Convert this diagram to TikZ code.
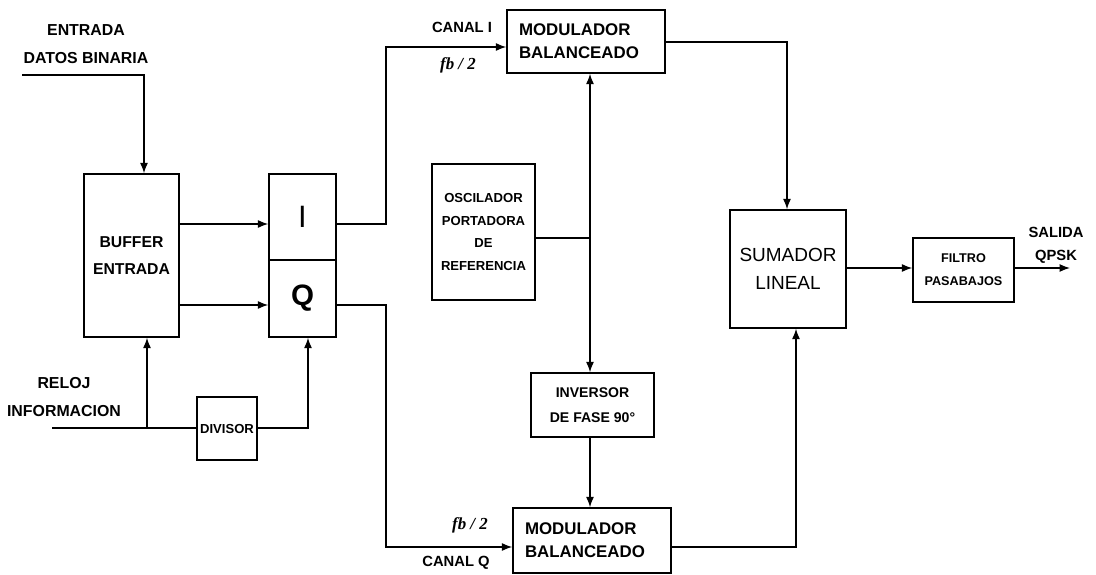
\documentclass[tikz,border=0pt]{standalone}
\usepackage{fontspec}
\setmainfont{Liberation Sans}
\newfontfamily\fbfont{Liberation Serif}
\usetikzlibrary{arrows.meta}

\begin{document}
\begin{tikzpicture}[x=0.25mm, y=-0.25mm, line width=1pt,
        blk/.style = {draw, line width=1pt, inner sep=0pt, align=center},
        lbl/.style = {inner sep=0pt, align=center, font=\bfseries\fontsize{11}{20}\selectfont},
        arr/.style = {-{Latex[length=2.6mm,width=2mm]}}]
    \useasboundingbox (0,0) rectangle (1096,575);

    % bloques
    \node[blk, minimum width=23.75mm, minimum height=40.75mm, font=\bfseries\fontsize{11.2}{19}\selectfont] (buf) at (131.5,255.5) {BUFFER\\ENTRADA};
    \node[blk, minimum width=16.75mm, minimum height=21.5mm, font=\fontsize{22}{22}\selectfont] (ibox) at (302.5,217) {I};
    \node[blk, minimum width=16.75mm, minimum height=19.25mm, font=\bfseries\fontsize{21}{21}\selectfont] (qbox) at (302.5,298.5) {Q};
    \node[blk, minimum width=39.5mm, minimum height=15.75mm, align=left, text width=33.5mm, inner xsep=3mm, font=\bfseries\fontsize{12}{16.3}\selectfont] (modI) at (586,41.5) {MODULADOR\\BALANCEADO};
    \node[blk, minimum width=25.75mm, minimum height=34mm, font=\bfseries\fontsize{9.3}{16.3}\selectfont] (osc) at (483.5,232) {OSCILADOR\\PORTADORA\\DE\\REFERENCIA};
    \node[blk, minimum width=30.75mm, minimum height=16mm, font=\bfseries\fontsize{10}{17.5}\selectfont] (inv) at (592.5,405) {INVERSOR\\DE FASE 90°};
    \node[blk, minimum width=39.5mm, minimum height=16.25mm, align=left, text width=33.5mm, inner xsep=3mm, font=\bfseries\fontsize{12}{16.3}\selectfont] (modQ) at (592,540.5) {MODULADOR\\BALANCEADO};
    \node[blk, minimum width=29mm, minimum height=29.5mm, font=\fontsize{13.5}{20}\selectfont] (sum) at (788,269) {SUMADOR\\LINEAL};
    \node[blk, minimum width=25.25mm, minimum height=16mm, font=\bfseries\fontsize{9}{16.3}\selectfont] (filt) at (963.5,270) {FILTRO\\PASABAJOS};
    \node[blk, minimum width=15mm, minimum height=15.75mm, font=\bfseries\fontsize{9.3}{12}\selectfont] (div) at (227,428.5) {DIVISOR};

    % textos
    \node[lbl, font=\bfseries\fontsize{11.3}{20}\selectfont] (txtIn) at (86,44) {ENTRADA\\DATOS BINARIA};
    \node[lbl, font=\bfseries\fontsize{11.3}{20}\selectfont] (txtClk) at (64,397) {RELOJ\\INFORMACION};
    \node[lbl, font=\bfseries\fontsize{10.5}{12}\selectfont] (txtCI) at (462,27) {CANAL I};
    \node[lbl, font=\fbfont\bfseries\itshape\fontsize{12}{12}\selectfont] (fbI) at (458,65) {fb / 2};
    \node[lbl, font=\fbfont\bfseries\itshape\fontsize{12}{12}\selectfont] (fbQ) at (470,525) {fb / 2};
    \node[lbl, font=\bfseries\fontsize{10.5}{12}\selectfont] (txtCQ) at (456,563) {CANAL Q};
    \node[lbl, font=\bfseries\fontsize{10.5}{16.3}\selectfont] (txtOut) at (1056,245) {SALIDA\\QPSK};

    \coordinate (inDat) at (22,75);
    \coordinate (clk) at (52,428);
    \coordinate (jn) at (590,238);
    \coordinate (out) at (1070,268);

    % conexiones
    \draw[arr] (inDat) -| (buf.north -| 144,0);
    \draw[arr] (buf.east |- 0,224) -- (ibox.west |- 0,224);
    \draw[arr] (buf.east |- 0,305) -- (qbox.west |- 0,305);
    \draw[arr] (ibox.east |- 0,224) -- (386,224) |- (modI.west |- 0,47);
    \draw[arr] (qbox.east |- 0,305) -- (386,305) |- (modQ.west |- 0,547);
    \draw (osc.east |- jn) -- (jn);
    \draw[arr] (jn) -- (jn |- modI.south);
    \draw[arr] (jn) -- (jn |- inv.north);
    \draw[arr] (inv.south -| jn) -- (jn |- modQ.north);
    \draw[arr] (modI.east |- 0,42) -| (sum.north -| 787,0);
    \draw[arr] (modQ.east |- 0,547) -| (sum.south -| 796,0);
    \draw[arr] (sum.east |- 0,268) -- (filt.west |- 0,268);
    \draw[arr] (filt.east |- out) -- (out);
    \draw (clk) -- (div.west |- clk);
    \draw[arr] (147,428) -- (buf.south -| 147,0);
    \draw[arr] (div.east |- clk) -| (qbox.south -| 308,0);
\end{tikzpicture}
\end{document}
